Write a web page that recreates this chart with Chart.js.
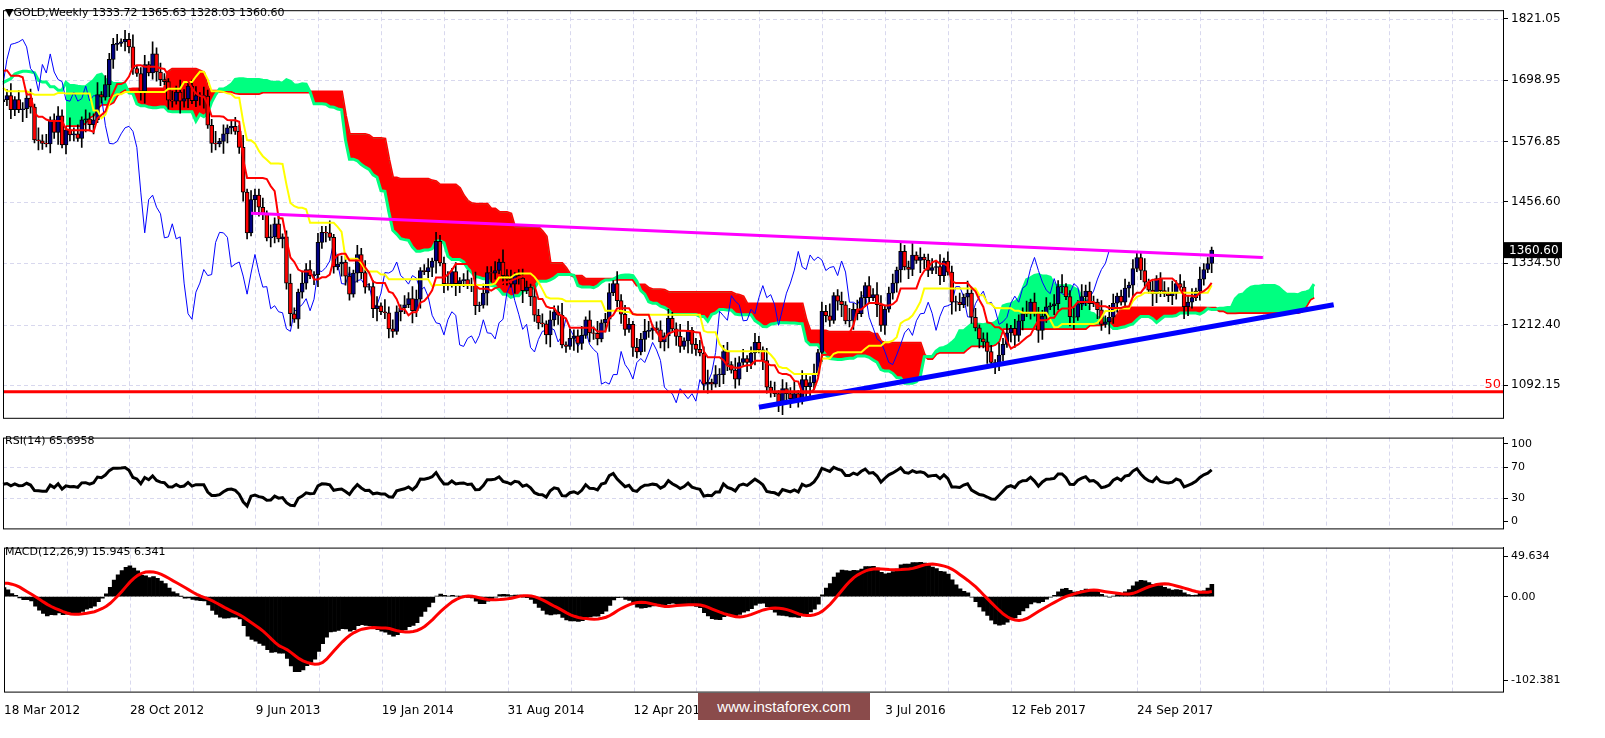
<!DOCTYPE html>
<html>
<head>
<meta charset="utf-8">
<script src="https://cdn.jsdelivr.net/npm/chart.js@4.4.1/dist/chart.umd.min.js"></script>
<style>
  body { margin: 0; background: #fff; width: 1605px; height: 738px; overflow: hidden; font-family: "DejaVu Sans", sans-serif; }
  canvas { position: absolute; left: 0; }
  .lbl { position: absolute; left: 5px; font-size: 11px; color: #000; }
  #wm { position: absolute; left: 698px; top: 693px; width: 172px; height: 27px; background: #8a4b4b;
        color: #fff; font-size: 15px; line-height: 27px; text-align: center; font-family: "Liberation Sans", sans-serif; }
</style>
</head>
<body>
<canvas id="mainChart" width="1605" height="428" style="top:0"></canvas>
<canvas id="rsiChart" width="1605" height="110" style="top:428px"></canvas>
<canvas id="macdChart" width="1605" height="184" style="top:538px"></canvas>
<div class="lbl" style="top:6px">&#9660;GOLD,Weekly 1333.72 1365.63 1328.03 1360.60</div>
<div class="lbl" style="top:434px">RSI(14) 65.6958</div>
<div class="lbl" style="top:545px">MACD(12,26,9) 15.945 6.341</div>
<div id="wm">www.instaforex.com</div>
<script>
// Weekly closes before the visible window (Jan 2011 - Mar 2012), needed for indicator lookback
const preCloses = [1368,1360,1343,1341,1348,1362,1388,1410,1429,1421,1426,1428,1450,1474,1486,1504,
  1490,1492,1510,1536,1542,1529,1540,1500,1486,1542,1592,1601,1628,1663,1745,1852,1828,1876,1856,1814,
  1658,1636,1668,1653,1745,1752,1788,1725,1680,1746,1712,1598,1605,1565,1617,1640,1665,1737,1725,1723,
  1725,1775,1710,1713,1656];

// Visible weekly closes, from 18 Mar 2012
const closes = [
  1660,1668,1640,1660,1640,1642,1663,1645,1580,1578,1573,1572,1620,1595,1628,1570,1600,1590,1592,1583,
  1620,1622,1610,1620,1670,1665,1690,1740,1770,1772,1775,1780,1765,1722,1712,1677,1730,1713,1751,1715,
  1700,1696,1659,1657,1675,1657,1662,1687,1658,1668,1667,1667,1609,1573,1572,1577,1592,1604,1607,1597,
  1565,1476,1395,1461,1470,1446,1433,1385,1387,1413,1383,1387,1295,1234,1223,1277,1295,1322,1310,1312,
  1376,1396,1395,1386,1327,1333,1337,1309,1273,1315,1352,1316,1287,1288,1244,1250,1238,1236,1204,1199,
  1238,1246,1252,1264,1240,1263,1320,1318,1326,1339,1378,1335,1294,1293,1318,1294,1300,1302,1290,1293,
  1250,1251,1275,1316,1315,1320,1337,1310,1303,1293,1310,1305,1280,1287,1268,1231,1216,1214,1192,1222,
  1238,1231,1172,1169,1185,1190,1175,1191,1222,1196,1195,1184,1216,1223,1276,1294,1260,1233,1203,1213,
  1167,1158,1183,1199,1201,1206,1202,1178,1190,1225,1204,1189,1169,1180,1201,1173,1163,1156,1094,1098,
  1094,1113,1113,1159,1133,1122,1104,1137,1145,1137,1156,1177,1162,1141,1088,1080,1075,1057,1085,1075,
  1065,1075,1060,1103,1089,1097,1116,1157,1239,1230,1221,1270,1259,1252,1220,1221,1243,1234,1266,1290,
  1266,1272,1252,1211,1243,1275,1295,1321,1358,1327,1322,1351,1340,1347,1341,1320,1326,1328,1310,1339,
  1317,1257,1257,1252,1267,1275,1227,1206,1184,1178,1159,1137,1133,1152,1173,1196,1205,1191,1220,1234,
  1235,1257,1235,1201,1229,1248,1250,1254,1288,1288,1268,1228,1227,1254,1268,1279,1254,1257,1242,1213,
  1218,1227,1255,1269,1257,1285,1291,1324,1346,1320,1297,1281,1274,1304,1280,1274,1270,1275,1294,1287,
  1248,1257,1266,1279,1303,1322,1334,1360.6
];

// Upper / lower wick sizes per week, in steps of 6 USD (read roughly from the candles)
const wickUp = '2132413223142312321423132241322313241231423213243123132241312324132231423123214231322413223132412314232132431231322413123241322314231232142313224132231324123142321324312313224131232413223142312321423132241322313241231423213243123132241312324132231423123214231322413223132412314232132431231322413123241322314231232142313224132231324123142321324312313224131232413223142';
const wickDn = '3212321432132132413221342312143213221341232132142312341321432123214321321324132213423121432132213412321321423123413214321232143213213241322134231214321322134123213214231234132143212321432132132413221342312143213221341232132142312341321432123214321321324132213423121432132213412321321423123413214321232143213213241322134231214321322134123213214231234132143212321432132132';

const tickDates = ['18 Mar 2012','28 Oct 2012','9 Jun 2013','19 Jan 2014','31 Aug 2014','12 Apr 2015',
  '22 Nov 2015','3 Jul 2016','12 Feb 2017','24 Sep 2017'];
const priceTicks = [1821.05, 1698.95, 1576.85, 1456.60, 1334.50, 1212.40, 1092.15];
const rsiTicks = [100, 70, 30, 0];
const macdTicks = [49.634, 0, -102.381];

const SLOTS = 382;
const PRE = preCloses.length;

// ---- build full series ----
const allC = preCloses.concat(closes);
const allO = allC.map((c, i) => i === 0 ? c : allC[i - 1]);
const allH = allC.map((c, i) => Math.max(c, allO[i]) + 6 * Number(wickUp[i % wickUp.length]));
const allL = allC.map((c, i) => Math.min(c, allO[i]) - 6 * Number(wickDn[i % wickDn.length]));

function midRange(i, n) {
  if (i < n - 1) return null;
  let hi = -Infinity, lo = Infinity;
  for (let k = i - n + 1; k <= i; k++) { hi = Math.max(hi, allH[k]); lo = Math.min(lo, allL[k]); }
  return (hi + lo) / 2;
}
const total = allC.length;
const tenkan = [], kijun = [], spanA = [], spanB = [];
for (let i = 0; i < total; i++) { tenkan.push(midRange(i, 9)); kijun.push(midRange(i, 26)); }
for (let i = 0; i < total + 26; i++) {
  const j = i - 26;
  if (j >= 0 && j < total && tenkan[j] !== null && kijun[j] !== null) spanA.push((tenkan[j] + kijun[j]) / 2); else spanA.push(null);
  spanB.push(j >= 0 && j < total ? midRange(j, 52) : null);
}

// RSI (Wilder, 14)
const rsiAll = new Array(total).fill(null);
let ag = 0, al = 0;
for (let i = 1; i < total; i++) {
  const d = allC[i] - allC[i - 1];
  const g = Math.max(d, 0), l = Math.max(-d, 0);
  if (i <= 14) { ag += g / 14; al += l / 14; }
  else { ag = (ag * 13 + g) / 14; al = (al * 13 + l) / 14; }
  if (i >= 14) rsiAll[i] = al === 0 ? 100 : 100 - 100 / (1 + ag / al);
}

// MACD (12,26) with SMA(9) signal, as MT4 does
function ema(arr, n) {
  const k = 2 / (n + 1), out = [];
  arr.forEach((v, i) => out.push(i === 0 ? v : v * k + out[i - 1] * (1 - k)));
  return out;
}
const e12 = ema(allC, 12), e26 = ema(allC, 26);
const macdAll = allC.map((c, i) => e12[i] - e26[i]);
const sigAll = macdAll.map((m, i) => {
  if (i < 8) return null;
  let s = 0; for (let k = i - 8; k <= i; k++) s += macdAll[k];
  return s / 9;
});

// ---- slice to visible window ----
function vis(arr) {
  const out = [];
  for (let i = 0; i < SLOTS; i++) { const v = arr[PRE + i]; out.push(v === undefined ? null : v); }
  return out;
}
const labels = [];
for (let i = 0; i < SLOTS; i++) labels.push(i);
const tickIdx = {};
tickDates.forEach((t, k) => { tickIdx[k * 32] = t; });

const vO = vis(allO), vC = vis(allC), vH = vis(allH), vL = vis(allL);
const bodies = vC.map((c, i) => c === null ? null : [vO[i], Math.abs(c - vO[i]) < 1 ? vO[i] + 1 : c]);
const wicks = vC.map((c, i) => c === null ? null : [vL[i], vH[i]]);
const bodyColors = vC.map((c, i) => c !== null && c >= vO[i] ? '#000080' : '#ff0000');
const chikou = [];
for (let i = 0; i < SLOTS; i++) { const v = allC[PRE + i + 26]; chikou.push(v === undefined ? null : v); }

// ---- shared helpers ----
const AXIS_W = 102;
const font = { family: 'DejaVu Sans', size: 11 };
function fitRight(scale) { scale.width = AXIS_W; }

const framePlugin = {
  id: 'frame',
  beforeDatasetsDraw(chart) {
    const { ctx, chartArea: a, scales } = chart;
    ctx.save();
    ctx.strokeStyle = '#d8d8ee'; ctx.lineWidth = 1; ctx.setLineDash([4, 3]);
    for (let i = 16; i < SLOTS; i += 16) {
      const x = Math.round(scales.x.getPixelForValue(i)) + 0.5;
      ctx.beginPath(); ctx.moveTo(x, a.top); ctx.lineTo(x, a.bottom); ctx.stroke();
    }
    (chart.options.hLines || []).forEach(v => {
      const y = Math.round(scales.y.getPixelForValue(v)) + 0.5;
      ctx.beginPath(); ctx.moveTo(a.left, y); ctx.lineTo(a.right, y); ctx.stroke();
    });
    ctx.restore();
  },
  afterDraw(chart) {
    const { ctx, chartArea: a } = chart;
    ctx.save(); ctx.strokeStyle = '#000'; ctx.lineWidth = 1;
    ctx.strokeRect(a.left + 0.5, a.top + 0.5, a.right - a.left, a.bottom - a.top);
    ctx.restore();
  }
};

const baseX = { type: 'category', offset: false, display: false, grid: { display: false } };

// ---- main chart ----
const trendPlugin = {
  id: 'trend',
  afterDatasetsDraw(chart) {
    const { ctx, chartArea: a, scales: { x, y } } = chart;
    function seg(i0, p0, i1, p1, color, w) {
      ctx.beginPath(); ctx.strokeStyle = color; ctx.lineWidth = w;
      ctx.moveTo(x.getPixelForValue(i0), y.getPixelForValue(p0));
      ctx.lineTo(x.getPixelForValue(i1), y.getPixelForValue(p1)); ctx.stroke();
    }
    ctx.save();
    seg(63, 1434, 320, 1346, '#ff00ff', 3);
    seg(192, 1048, 338, 1252, '#0000ff', 5);
    const ry = y.getPixelForValue(1079);
    ctx.beginPath(); ctx.strokeStyle = '#ff0000'; ctx.lineWidth = 3;
    ctx.moveTo(a.left, ry); ctx.lineTo(a.right, ry); ctx.stroke();
    ctx.fillStyle = '#ff0000'; ctx.font = '13px "DejaVu Sans"'; ctx.textAlign = 'right';
    ctx.fillText('50', a.right - 2, ry - 4);
    // current price marker
    const py = y.getPixelForValue(1360.6);
    ctx.fillStyle = '#000'; ctx.fillRect(a.right + 1, py - 8, 58, 16);
    ctx.fillStyle = '#fff'; ctx.textAlign = 'left'; ctx.font = '12px "DejaVu Sans"';
    ctx.fillText('1360.60', a.right + 6, py + 4);
    ctx.restore();
  }
};

const lineDs = (data, color, width, extra) => Object.assign({
  type: 'line', data, borderColor: color, borderWidth: width, pointRadius: 0, tension: 0, fill: false
}, extra || {});

const common = { responsive: false, animation: false, devicePixelRatio: 1 };

new Chart(document.getElementById('mainChart'), {
  data: {
    labels,
    datasets: [
      lineDs(vis(spanA), '#00ff80', 3, { order: 10, fill: { target: '+1', above: '#00ff80', below: '#ff0000' } }),
      lineDs(vis(spanB), '#ff0000', 3, { order: 11 }),
      lineDs(chikou, '#0000ff', 1, { order: 5 }),
      { type: 'bar', data: wicks, backgroundColor: '#000', barThickness: 1, grouped: false, order: 3 },
      { type: 'bar', data: bodies, backgroundColor: bodyColors, borderColor: '#000', borderWidth: 1,
        borderSkipped: false, barThickness: 4, grouped: false, order: 2 },
      lineDs(vis(kijun), '#ffff00', 2, { order: 1 }),
      lineDs(vis(tenkan), '#ff0000', 2, { order: 0 })
    ]
  },
  options: Object.assign({}, common, {
    layout: { padding: { left: 3, top: 3, bottom: 3, right: 0 } },
    hLines: priceTicks,
    plugins: { legend: { display: false }, tooltip: { enabled: false } },
    scales: {
      x: baseX,
      y: {
        position: 'right', min: 1027, max: 1838, afterFit: fitRight,
        afterBuildTicks: s => { s.ticks = priceTicks.map(v => ({ value: v })); },
        grid: { drawOnChartArea: false, color: '#000', tickLength: 5 },
        border: { color: '#000' },
        ticks: { color: '#000', font: { family: 'DejaVu Sans', size: 12 }, callback: v => v.toFixed(2) }
      }
    }
  }),
  plugins: [framePlugin, trendPlugin]
});

// ---- RSI ----
new Chart(document.getElementById('rsiChart'), {
  data: { labels, datasets: [lineDs(vis(rsiAll), '#000', 3)] },
  options: Object.assign({}, common, {
    layout: { padding: { left: 3, top: 2, bottom: 1, right: 0 } },
    hLines: [70, 30],
    plugins: { legend: { display: false }, tooltip: { enabled: false } },
    scales: {
      x: baseX,
      y: {
        position: 'right', min: -9, max: 108, afterFit: fitRight,
        afterBuildTicks: s => { s.ticks = rsiTicks.map(v => ({ value: v })); },
        grid: { drawOnChartArea: false, color: '#000', tickLength: 5 },
        border: { color: '#000' },
        ticks: { color: '#000', font }
      }
    }
  }),
  plugins: [framePlugin]
});

// ---- MACD ----
new Chart(document.getElementById('macdChart'), {
  data: {
    labels,
    datasets: [
      lineDs(vis(sigAll), '#ff0000', 3, { order: 0 }),
      { type: 'bar', data: vis(macdAll), backgroundColor: '#000', barPercentage: 1, categoryPercentage: 1, order: 1 }
    ]
  },
  options: Object.assign({}, common, {
    layout: { padding: { left: 3, top: 2, bottom: 0, right: 0 } },
    hLines: [],
    plugins: { legend: { display: false }, tooltip: { enabled: false } },
    scales: {
      x: {
        type: 'category', offset: false,
        grid: { display: false }, border: { display: false },
        ticks: {
          autoSkip: false, maxRotation: 0, align: 'start', color: '#000', padding: 4,
          font: { family: 'DejaVu Sans', size: 12 },
          callback: (v, i) => tickIdx[i] !== undefined ? tickIdx[i] : null
        }
      },
      y: {
        position: 'right', min: -116, max: 60, afterFit: fitRight,
        afterBuildTicks: s => { s.ticks = macdTicks.map(v => ({ value: v })); },
        grid: { drawOnChartArea: false, color: '#000', tickLength: 5 },
        border: { color: '#000' },
        ticks: { color: '#000', font, callback: v => v.toFixed(v === 0 ? 2 : 3) }
      }
    }
  }),
  plugins: [framePlugin]
});
</script>
</body>
</html>
